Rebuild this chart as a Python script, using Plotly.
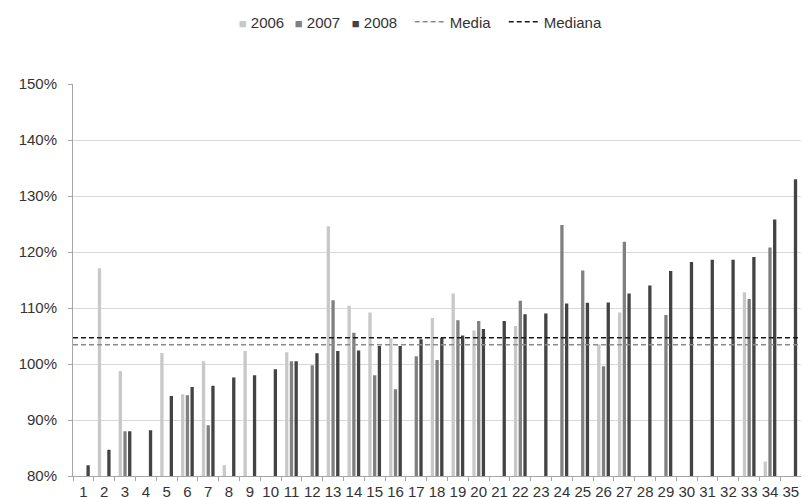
import plotly.graph_objects as go

categories = list(range(1, 37))
tick_labels = [str(c) for c in categories]

v2006 = [None, 117.1, 98.75, None, 101.96, 94.6, 100.5, 81.9, 102.3, None, 102.1, None,
         124.6, 110.4, 109.2, 104.6, None, 108.2, 112.6, 106.0, None, 106.8, None, None,
         None, 103.5, 109.2, None, None, None, None, None, 112.8, 82.6, None, None]
v2007 = [None, None, 88.0, None, None, 94.4, 89.05, None, None, None, 100.5, 99.76,
         111.4, 105.6, 98.0, 95.5, 101.4, 100.7, 107.8, 107.7, None, 111.3, None, 124.8,
         116.7, 99.6, 121.85, None, 108.75, None, None, None, 111.6, 120.8, None, None]
v2008 = [81.9, 84.7, 88.0, 88.15, 94.3, 95.9, 96.1, 97.6, 98.0, 99.05, 100.5, 101.9,
         102.3, 102.4, 103.2, 103.2, 104.4, 104.7, 105.1, 106.25, 107.7, 108.9, 109.0, 110.8,
         110.95, 111.0, 112.6, 114.0, 116.6, 118.2, 118.6, 118.6, 119.1, 125.8, 133.0, None]
media = 103.45
mediana = 104.7
y_ticks = [80, 90, 100, 110, 120, 130, 140, 150]
y_tick_labels = [f"{v}%" for v in y_ticks]

FONT = "Arial, 'Liberation Sans', sans-serif"
TXT = "#333333"
fig = go.Figure()
series = [("2006", v2006, "#c8c8c8"), ("2007", v2007, "#808080"), ("2008", v2008, "#434343")]
for name, vals, col in series:
    fig.add_trace(go.Bar(x=categories, y=vals, name=name, showlegend=False,
                         marker=dict(color=col, line=dict(width=0))))
# legend entries: small coloured square glyph placed right before the year
for (name, vals, col), lw in zip(series, [11, 12, 53]):
    label = f"<span style='font-size:13px;color:{col}'>■</span> {name}"
    fig.add_trace(go.Scatter(x=[None], y=[None], mode="markers", name=label,
                             marker=dict(size=1, color="rgba(0,0,0,0)"),
                             legendwidth=lw))

x_span = [categories[0] - 0.5, categories[-1] + 0.5]
fig.add_trace(go.Scatter(x=x_span, y=[media, media], mode="lines", name="Media",
                         line=dict(color="#8c8c8c", width=1.5, dash="5px,3px"), legendwidth=49))
fig.add_trace(go.Scatter(x=x_span, y=[mediana, mediana], mode="lines", name="Mediana",
                         line=dict(color="#1a1a1a", width=1.5, dash="5px,3px")))

fig.update_layout(
    width=814, height=498,
    margin=dict(l=65.3, r=0, t=76, b=30, autoexpand=False),
    paper_bgcolor="white", plot_bgcolor="white",
    font=dict(family=FONT, size=15, color=TXT),
    barmode="group", bargap=0.32, bargroupgap=0.3,
    showlegend=True,
    legend=dict(orientation="h", x=0.1679, xanchor="left", y=1.158, yanchor="middle",
                font=dict(size=15, color=TXT), itemwidth=30, traceorder="normal",
                bgcolor="rgba(0,0,0,0)"),
    xaxis=dict(range=[0.5, 36.5], tickmode="array", tickvals=categories, ticktext=tick_labels,
               ticks="", showgrid=False, showline=True, linecolor="#a6a6a6", linewidth=1,
               zeroline=False, automargin=False, ticklabelstandoff=2,
               ticklabelposition="outside", ticklabeloverflow="allow", tickangle=0,
               minor=dict(ticks="outside", tick0=0.5, dtick=1, ticklen=4,
                          tickcolor="#a6a6a6", showgrid=False),
               tickfont=dict(size=15, color=TXT)),
    yaxis=dict(range=[80, 150], tickvals=y_ticks, ticktext=y_tick_labels,
               showgrid=True, gridcolor="#d9d9d9", gridwidth=1,
               showline=True, linecolor="#a6a6a6", linewidth=1,
               ticks="outside", ticklen=4, tickcolor="#a6a6a6",
               zeroline=False, automargin=False, ticklabelstandoff=8,
               tickfont=dict(size=15, color=TXT)),
)

fig.write_html("out.html")
